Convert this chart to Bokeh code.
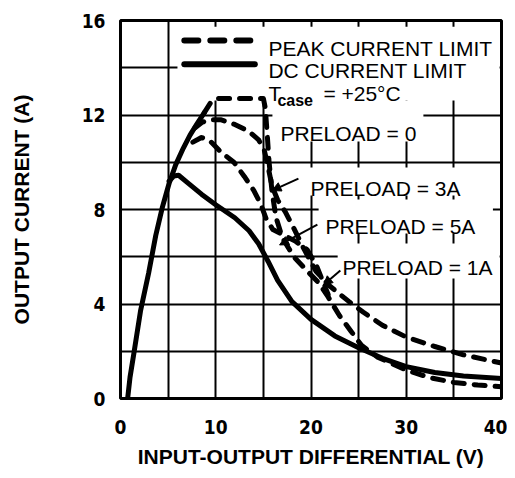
from bokeh.plotting import figure
from bokeh.models import Range1d, FixedTicker, Label, Arrow, NormalHead
from bokeh.embed import file_html
from bokeh.resources import INLINE

# ---------------- data ----------------
x_ticks = [0, 10, 20, 30, 40]
y_ticks = [0, 4, 8, 12, 16]
x_grid = [5, 10, 15, 20, 25, 30, 35]
y_grid = [2, 4, 6, 8, 10, 12, 14]

# rising envelope (solid)
env_v = [0.75, 1.0, 1.4, 2.1, 2.95, 3.7, 4.4, 5.1, 5.8, 6.6, 7.3, 8.0, 8.8]
env_a = [0.0, 0.9, 1.9, 3.7, 5.3, 6.9, 8.1, 9.1, 9.9, 10.6, 11.15, 11.6, 12.1]

# DC current limit (solid)
dc_v = [5.1, 5.6, 6.1, 7.0, 8.5, 10.0, 12.0, 13.5, 14.5, 15.5, 16.5, 18.0, 20.0,
        22.5, 25.0, 27.5, 30.0, 33.0, 36.0, 40.0]
dc_a = [9.2, 9.42, 9.45, 9.15, 8.65, 8.2, 7.65, 7.1, 6.55, 5.8, 5.0, 4.1, 3.35,
        2.65, 2.15, 1.7, 1.35, 1.1, 0.95, 0.85]

# peak current limit, preload = 0 (dashed)
p0_v = [8.8, 9.5, 10.2, 12.5, 15.0, 15.2, 15.4, 15.6, 15.9, 16.3, 17.0, 18.2, 19.6,
        20.8, 21.8, 23.0, 24.2, 25.3, 27.0, 30.0, 32.5, 35.0, 37.5, 40.0]
p0_a = [12.1, 12.55, 12.7, 12.7, 12.7, 12.3, 11.2, 10.0, 8.8, 7.7, 6.8, 6.0, 5.4,
        4.9, 4.3, 3.5, 2.85, 2.25, 1.75, 1.2, 0.88, 0.68, 0.57, 0.5]

# peak current limit, preload = 1A (dashed)
p1_v = [7.8, 8.6, 9.5, 10.5, 12.0, 13.5, 14.5, 15.1, 15.5, 15.9, 16.5, 17.3, 18.2,
        19.3, 20.5, 22.0, 24.0, 25.5, 27.5, 30.0, 33.0, 36.0, 40.0]
p1_a = [11.45, 11.7, 11.8, 11.8, 11.6, 11.3, 10.95, 10.5, 9.8, 9.0, 8.4, 7.9, 7.2,
        6.3, 5.4, 4.75, 4.1, 3.65, 3.1, 2.6, 2.2, 1.85, 1.5]

# peak current limit, preload = 3A (dashed)
p3_v = [7.6, 8.5, 9.4, 10.5, 11.9, 13.0, 14.0, 14.7, 15.3, 16.0, 17.2, 18.4, 19.6,
        20.6, 21.8]
p3_a = [10.85, 11.05, 10.9, 10.45, 10.0, 9.4, 8.8, 8.25, 7.6, 7.15, 6.9, 6.65, 6.3,
        5.6, 4.4]

# ---------------- figure ----------------
p = figure(width=507, height=470, x_range=Range1d(0, 40), y_range=Range1d(0, 16),
           output_backend="svg", toolbar_location=None,
           min_border_left=120, min_border_right=6, min_border_top=20,
           min_border_bottom=72)
p.background_fill_color = "white"
p.border_fill_color = "white"
p.outline_line_color = "black"
p.outline_line_width = 3

p.xgrid.ticker = FixedTicker(ticks=x_grid)
p.ygrid.ticker = FixedTicker(ticks=y_grid)
for g in (p.xgrid, p.ygrid):
    g.grid_line_color = "black"
    g.grid_line_width = 2
    g.grid_line_alpha = 1.0

for ax, tks in ((p.xaxis, x_ticks), (p.yaxis, y_ticks)):
    ax.ticker = FixedTicker(ticks=tks)
    ax.axis_line_color = None
    ax.major_tick_line_color = None
    ax.minor_tick_line_color = None
    ax.major_tick_in = 0
    ax.major_tick_out = 0
    ax.major_label_text_font = "DejaVu Sans Condensed"
    ax.major_label_text_font_style = "bold"
    ax.major_label_text_font_size = "19px"
    ax.major_label_text_color = "black"
    ax.axis_label_text_font = "Liberation Sans"
    ax.axis_label_text_font_style = "bold"
    ax.axis_label_text_font_size = "21px"
    ax.axis_label_text_color = "black"

p.xaxis.axis_label = "INPUT-OUTPUT DIFFERENTIAL (V)"
p.yaxis.axis_label = "OUTPUT CURRENT (A)"
p.xaxis.major_label_standoff = 21
p.yaxis.major_label_standoff = 15
p.xaxis.axis_label_standoff = 8
p.yaxis.axis_label_standoff = 46

# white areas behind the texts (hide the grid there)
box_l = [5.98, 15.95, 19.2, 20.8, 22.8]
box_r = [39.8, 31.8, 36.7, 39.1, 39.8]
box_t = [15.74, 12.61, 9.78, 8.42, 6.56]
box_b = [12.61, 10.88, 8.59, 6.98, 5.08]
p.quad(left=box_l, right=box_r, top=box_t, bottom=box_b,
       fill_color="white", line_color=None)

# curves
LW = 5
p.line(env_v, env_a, line_color="black", line_width=LW, line_cap="round",
       line_join="round")
p.line(dc_v, dc_a, line_color="black", line_width=LW, line_cap="round",
       line_join="round")
for xs, ys in ((p0_v, p0_a), (p1_v, p1_a), (p3_v, p3_a)):
    p.line(xs, ys, line_color="black", line_width=LW, line_dash="11 10",
           line_cap="round", line_join="round")

# legend samples
p.line([6.7, 14.1], [15.15, 15.15], line_color="black", line_width=6,
       line_dash="14 12", line_cap="round")
p.line([6.7, 14.1], [14.15, 14.15], line_color="black", line_width=6,
       line_cap="round")

FONT = "Liberation Sans"
def lab(x, y, t, size="21px", style="normal"):
    p.add_layout(Label(x=x, y=y, text=t, text_font=FONT, text_font_size=size,
                       text_font_style=style, text_color="black",
                       text_baseline="alphabetic", text_align="left"))

lab(15.53, 14.81, "PEAK CURRENT LIMIT")
lab(15.53, 13.88, "DC CURRENT LIMIT")
lab(15.53, 12.91, "T")
lab(16.47, 12.63, "case", size="16px", style="bold")
lab(21.3, 12.91, "= +25°C")
lab(16.79, 11.21, "PRELOAD = 0")
lab(19.94, 8.89, "PRELOAD = 3A")
lab(21.51, 7.28, "PRELOAD = 5A")
lab(23.3, 5.54, "PRELOAD = 1A")

for xs, ys, xe, ye in ((18.68, 9.31, 15.9, 8.8), (20.67, 7.36, 16.7, 6.5),
                       (23.08, 5.42, 21.3, 4.8)):
    p.add_layout(Arrow(x_start=xs, y_start=ys, x_end=xe, y_end=ye,
                       line_color="black", line_width=2,
                       end=NormalHead(size=9, fill_color="black",
                                      line_color="black")))

open("out.html", "w").write(file_html(p, INLINE))
